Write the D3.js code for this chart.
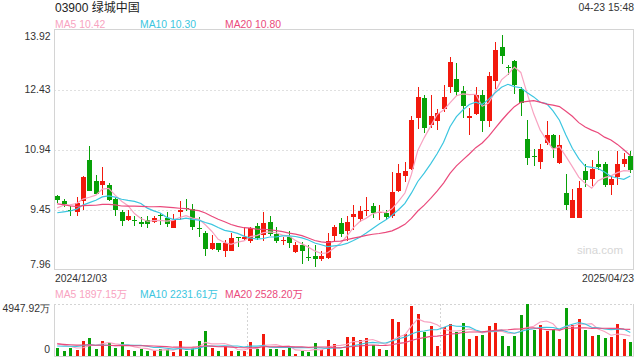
<!DOCTYPE html>
<html><head><meta charset="utf-8">
<script src="https://cdn.jsdelivr.net/npm/d3@7"></script>
<style>
html,body{margin:0;padding:0;background:#fff;}
svg{display:block;font-family:"Liberation Sans",Arial,"Noto Sans CJK SC",sans-serif;}
</style></head>
<body><svg id="c" width="640" height="360"></svg>
<script>
// ---------- data ----------
const title = "03900 绿城中国";
const stamp = "04-23 15:48";
const dateLabels = ["2024/12/03", "2025/04/23"];
const priceTicks = [13.92, 12.43, 10.94, 9.45, 7.96];
const volTicks = [4947.92, 0];
const maNames = ["MA5", "MA10", "MA20"];
const maPeriods = [5, 10, 20];
const maLegend = ["10.42", "10.30", "10.80"];
const volMaLegend = ["1897.15万", "2231.61万", "2528.20万"];

const open = [9.79,9.66,9.43,9.39,9.66,10.68,10.16,10.07,10.06,9.72,
9.40,9.18,9.19,9.14,9.19,9.14,9.32,9.23,8.99,9.38,
9.48,9.47,9.00,8.87,8.48,8.62,8.43,8.43,8.77,8.72,
8.67,9.05,8.82,9.14,8.85,8.69,8.76,8.40,8.57,8.27,
8.30,8.23,8.25,8.78,9.11,8.92,9.27,9.22,9.44,9.53,
9.37,9.37,9.29,9.91,10.29,10.45,11.71,12.22,11.56,11.64,
11.95,12.50,12.70,12.39,11.71,11.83,12.30,11.64,12.63,13.49,
12.99,13.14,12.45,11.21,10.78,10.62,11.11,11.30,10.61,9.87,
9.25,9.23,10.41,10.20,10.59,10.57,10.07,10.25,10.59,10.79];
const high = [9.80,9.72,9.54,9.76,10.29,11.02,10.31,10.50,10.10,9.75,
9.43,9.43,9.28,9.26,9.30,9.28,9.37,9.39,9.34,9.67,
9.72,9.59,9.26,8.92,8.81,8.62,8.69,8.86,8.77,9.02,
9.02,9.12,9.39,9.29,9.01,8.77,8.91,8.64,8.64,8.57,
8.57,8.42,8.86,9.07,9.24,9.30,9.57,9.53,9.77,9.61,
9.55,9.43,10.38,10.59,10.63,11.78,12.49,12.30,12.30,11.95,
12.54,13.23,13.10,12.51,11.97,12.49,12.43,12.87,13.60,13.78,
13.03,13.17,12.49,11.68,10.96,11.08,11.65,11.33,11.29,10.34,
9.96,10.17,10.57,10.68,10.90,10.63,10.29,10.90,10.85,10.90];
const low = [9.61,9.52,9.29,9.30,9.43,9.90,9.81,9.82,9.67,9.30,
9.05,9.17,9.04,9.02,8.98,9.11,9.06,9.01,8.99,9.18,
9.41,8.95,8.77,8.29,8.45,8.40,8.27,8.43,8.53,8.67,
8.62,8.70,8.67,8.80,8.61,8.58,8.50,8.37,8.10,8.18,
8.03,8.18,8.23,8.67,8.77,8.67,8.95,9.14,9.28,9.24,
9.19,9.19,9.25,9.88,10.13,10.42,11.44,11.36,11.48,11.42,
11.88,12.35,12.27,11.71,11.30,11.79,11.37,11.51,12.45,13.07,
12.80,12.32,11.77,10.56,10.52,10.46,11.05,10.73,10.59,9.43,
9.25,9.23,10.01,10.04,10.42,10.01,9.81,10.07,10.50,10.36];
const close = [9.69,9.58,9.41,9.60,10.26,9.92,9.84,10.16,9.69,9.43,
9.16,9.29,9.18,9.08,9.08,9.24,9.31,9.09,9.19,9.43,
9.46,9.01,8.98,8.48,8.62,8.45,8.62,8.75,8.76,8.77,
8.99,8.74,9.12,8.85,8.66,8.70,8.62,8.58,8.42,8.26,
8.23,8.30,8.67,9.02,8.83,9.14,9.34,9.42,9.45,9.36,
9.38,9.26,9.89,10.36,10.41,11.68,12.25,11.48,11.78,11.85,
12.25,13.12,12.37,12.01,11.77,12.29,11.64,12.76,13.40,13.25,
12.98,12.55,12.09,10.74,10.77,10.96,11.30,10.97,11.05,9.57,
9.69,9.99,10.19,10.46,10.50,10.07,10.21,10.59,10.71,10.43];
// volume in 万 shares
const volume = [729,476,729,571,1427,1713,666,1427,1205,761,
1332,571,476,666,476,507,666,698,381,1427,
476,761,1427,2379,729,476,920,476,476,476,
1332,666,2093,666,634,602,824,190,476,381,
1268,571,1522,1142,571,1808,1808,1522,1713,1015,
666,571,3521,3235,2093,4758,3996,2284,2855,951,
2759,3045,2284,3140,1617,1903,1998,2855,3140,1903,
951,1903,3901,4947.92,2474,2950,2379,2569,1617,4567,
2950,3521,2474,1903,1998,1713,1808,3045,1617,1332];
// sessions before the window (estimated from where the MA lines start)
const priorCloses = [9.95,10.05,9.90,9.85,9.80,9.75,9.70,9.72,9.68,9.70,
9.35,9.20,9.15,9.25,9.29,9.25,9.35,9.45,9.71];
const priorVolumes = [1350,1350,1350,1350,1350,1350,1350,1350,1350,1350,
700,700,700,700,700,1300,1300,1350,1320];

// ---------- drawing ----------
const N = close.length;
const UP = "#f2190d", DOWN = "#08a108";
const maColors = ["#f8a3c1", "#3cc6e0", "#ea4a7c"];
const textColor = "#333";
const svg = d3.select("#c");
const L = 54, R = 633.5, T = 29.5, B = 269.5;
const VT = 304, VB = 356.5;

const x = d3.scaleBand().domain(d3.range(N)).range([L, R]).padding(0);
const cx = i => x(i) + x.bandwidth() / 2;
const y = d3.scaleLinear().domain([priceTicks[4], priceTicks[0]]).range([B, T]);
const yv = d3.scaleLinear().domain([0, volTicks[0]]).range([VB - 0.5, VT]);

function movingAvg(vals, prior, n) {
  const all = prior.concat(vals), P = prior.length;
  return vals.map((v, i) => d3.mean(all.slice(P + i - n + 1, P + i + 1)));
}

// title and header
svg.append("text").attr("x", 55).attr("y", 11.5).attr("font-size", 12).attr("fill", "#222").text(title);
svg.append("text").attr("x", 634).attr("y", 10.5).attr("text-anchor", "end").attr("font-size", 10.4).attr("fill", textColor).text(stamp);
const legX = [55, 140, 225];
maNames.forEach((n, k) => {
  svg.append("text").attr("x", legX[k]).attr("y", 27.8).attr("font-size", 10.4).attr("fill", maColors[k]).text(n + " " + maLegend[k]);
  svg.append("text").attr("x", legX[k]).attr("y", 298).attr("font-size", 10.4).attr("fill", maColors[k]).text(n + " " + volMaLegend[k]);
});

// main frame and grid
const g = svg.append("g");
g.selectAll("line.grid").data(priceTicks.slice(1, 4)).join("line")
  .attr("x1", L).attr("x2", R).attr("y1", d => Math.round(y(d)) + 0.5).attr("y2", d => Math.round(y(d)) + 0.5)
  .attr("stroke", "#e0e0e0").attr("stroke-dasharray", "2,2");
g.append("rect").attr("x", L + 0.5).attr("y", T).attr("width", R - L - 0.5).attr("height", B - T)
  .attr("fill", "none").attr("stroke", "#d4d4d4");

// y axis labels
const yAxis = d3.axisLeft(y).tickValues(priceTicks).tickSize(0).tickPadding(3).tickFormat(d3.format(".2f"));
const ya = svg.append("g").attr("transform", `translate(${L - 0.5},0)`).call(yAxis);
ya.select(".domain").remove();
ya.selectAll("text").attr("font-size", 10.4).attr("fill", textColor).attr("font-family", null)
  .attr("dy", (d, i) => i === 0 ? "0.95em" : (i === priceTicks.length - 1 ? "-0.2em" : "0.32em"));

// watermark
svg.append("text").attr("x", 623).attr("y", 254).attr("text-anchor", "end").attr("font-size", 11.5)
  .attr("fill", "#d6d6d6").text("sina.com");

// candles
const cg = svg.append("g").attr("shape-rendering", "crispEdges");
const idx = d3.range(N);
const col = i => close[i] >= open[i] ? UP : DOWN;
cg.selectAll("line.wick").data(idx).join("line")
  .attr("x1", i => Math.round(cx(i)) + 0.5).attr("x2", i => Math.round(cx(i)) + 0.5)
  .attr("y1", i => y(high[i])).attr("y2", i => y(low[i]))
  .attr("stroke", col).attr("stroke-width", 1);
const bw = 5;
cg.selectAll("rect.body").data(idx).join("rect")
  .attr("x", i => Math.round(cx(i)) + 0.5 - bw / 2)
  .attr("y", i => y(Math.max(open[i], close[i])))
  .attr("width", bw)
  .attr("height", i => Math.max(1, Math.abs(y(open[i]) - y(close[i]))))
  .attr("fill", col);

// price MAs
const line = d3.line().x((d, i) => cx(i)).y(d => y(d));
maPeriods.forEach((p, k) => {
  svg.append("path").datum(movingAvg(close, priorCloses, p)).attr("d", line)
    .attr("fill", "none").attr("stroke", maColors[k]).attr("stroke-width", 1.2);
});

// dates
svg.append("text").attr("x", 55).attr("y", 282).attr("font-size", 10.4).attr("fill", textColor).text(dateLabels[0]);
svg.append("text").attr("x", 634).attr("y", 282).attr("text-anchor", "end").attr("font-size", 10.4).attr("fill", textColor).text(dateLabels[1]);

// volume frame
const vg = svg.append("g");
vg.append("line").attr("x1", L).attr("x2", R).attr("y1", VT + 0.5).attr("y2", VT + 0.5)
  .attr("stroke", "#d4d4d4").attr("stroke-dasharray", "2,2");
[30, 60].forEach(i => {
  vg.append("line").attr("x1", Math.round(x(i)) + 0.5).attr("x2", Math.round(x(i)) + 0.5)
    .attr("y1", VT).attr("y2", VB).attr("stroke", "#d4d4d4").attr("stroke-dasharray", "2,2");
});
vg.append("path").attr("d", `M${L + 0.5},${VT} V${VB} H${R} V${VT}`)
  .attr("fill", "none").attr("stroke", "#d4d4d4");

const va = d3.axisLeft(yv).tickValues(volTicks).tickSize(0).tickPadding(4)
  .tickFormat(d => d === 0 ? "0" : d3.format(".2f")(d) + "万");
const vax = svg.append("g").attr("transform", `translate(${L},0)`).call(va);
vax.select(".domain").remove();
vax.selectAll("text").attr("font-size", 10.4).attr("fill", textColor).attr("font-family", null)
  .attr("dy", (d, i) => i === 0 ? "0.7em" : "-0.3em");

const vbw = 3;
svg.append("g").attr("shape-rendering", "crispEdges").selectAll("rect").data(idx).join("rect")
  .attr("x", i => Math.round(cx(i)) + 0.5 - vbw / 2 )
  .attr("y", i => yv(volume[i]))
  .attr("width", vbw)
  .attr("height", i => yv(0) - yv(volume[i]))
  .attr("fill", col);

const vline = d3.line().x((d, i) => cx(i)).y(d => yv(d));
maPeriods.forEach((p, k) => {
  svg.append("path").datum(movingAvg(volume, priorVolumes, p)).attr("d", vline)
    .attr("fill", "none").attr("stroke", maColors[k]).attr("stroke-width", 1.1);
});
</script>
</body></html>
